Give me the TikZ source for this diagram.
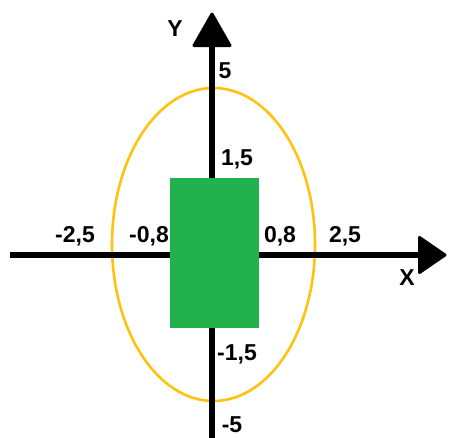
\documentclass[tikz,border=0pt]{standalone}
\usepackage{fontspec}
\setmainfont{Liberation Sans}
\begin{document}
\begin{tikzpicture}[x=1pt,y=-1pt,
  axis/.style={line width=6pt},
  head/.style={fill=black,draw=black,line width=3pt,line join=round},
  lbl/.style={font=\fontsize{23}{23}\selectfont\bfseries,inner sep=0pt},
  ell/.style={draw=ellcol,line width=2.6pt},
  box/.style={fill=boxgreen,draw=none}]
\definecolor{ellcol}{HTML}{FFC20E}
\definecolor{boxgreen}{HTML}{22B14C}
\useasboundingbox (0,0) rectangle (449,437);
% coordinates
\coordinate (xl) at (10,255);
\coordinate (xr) at (420,255);
\coordinate (yb) at (212,440);
\coordinate (yt) at (212,45);
% ellipse
\draw[ell] (213.5,244.5) ellipse [x radius=101.5, y radius=156.5];
% axes
\draw[axis] (xl) -- (xr);
\draw[axis] (yb) -- (yt);
% arrowheads
\draw[head] (212,14) -- (230,45.5) -- (194,45.5) -- cycle;
\draw[head] (445,255) -- (419.5,237.5) -- (419.5,272.5) -- cycle;
% green rectangle
\node[box, minimum width=89pt, minimum height=150pt, inner sep=0pt] (r) at (214.5,253) {};
% labels
\node[lbl] (ly) at (175,29) {Y};
\node[lbl] (lx) at (407,278) {X};
\node[lbl] (l5) at (225,71) {5};
\node[lbl] (l15) at (237,159) {1,5};
\node[lbl] (lm25) at (75,236) {-2,5};
\node[lbl] (lm08) at (149,236) {-0,8};
\node[lbl] (l08) at (280,236) {0,8};
\node[lbl] (l25) at (345,236) {2,5};
\node[lbl] (lm15) at (237,354) {-1,5};
\node[lbl] (lm5) at (232,424.5) {-5};
\end{tikzpicture}
\end{document}
